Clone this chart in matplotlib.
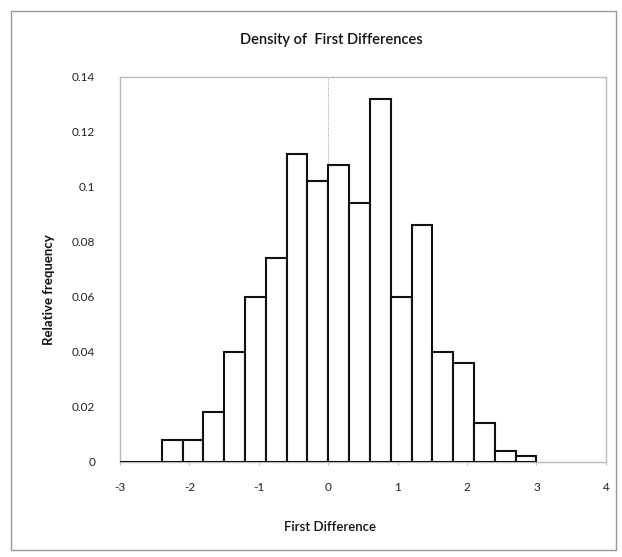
import numpy as np
import matplotlib
matplotlib.use("Agg")
import matplotlib.pyplot as plt
from matplotlib.patches import Rectangle

# Histogram bins (left edges) and relative frequencies
binEdges = [-3.0, -2.7, -2.4, -2.1, -1.8, -1.5, -1.2, -0.9, -0.6, -0.3,
            0.0, 0.3, 0.6, 0.9, 1.2, 1.5, 1.8, 2.1, 2.4, 2.7, 3.0]
relFreq = [0.0, 0.0, 0.008, 0.008, 0.018, 0.040, 0.060, 0.074, 0.112, 0.102,
           0.108, 0.094, 0.132, 0.060, 0.086, 0.040, 0.036, 0.014, 0.004, 0.002]
xTicks = [-3, -2, -1, 0, 1, 2, 3, 4]
yTicks = [0, 0.02, 0.04, 0.06, 0.08, 0.1, 0.12, 0.14]
yTickLabels = ['0', '0.02', '0.04', '0.06', '0.08', '0.1', '0.12', '0.14']

plt.rcParams['font.family'] = ['Lato', 'DejaVu Sans']
plt.rcParams['axes.unicode_minus'] = False

fig = plt.figure(figsize=(6.22, 5.57), dpi=100)
ax = fig.add_axes([0.193, 0.1706, 0.781, 0.6914])

lefts = np.array(binEdges[:-1])
widths = np.diff(binEdges)
ax.bar(lefts, relFreq, width=widths, align='edge', facecolor='white',
       edgecolor='#111111', linewidth=1.5, zorder=3)

# vertical axis crossing at zero, drawn light and dotted like the original
ax.axvline(0, color='#aaaaaa', linewidth=0.8, linestyle=(0, (1, 1)), zorder=1)

ax.set_xlim(-3, 4)
ax.set_ylim(0, 0.14)
ax.set_xticks(xTicks)
ax.set_yticks(yTicks)
ax.set_yticklabels(yTickLabels)
ax.tick_params(axis='x', direction='inout', length=5, color='#bbbbbb',
               labelsize=8.5, pad=12, labelcolor='#222222')
ax.tick_params(axis='y', length=0, labelsize=8.5, pad=18, labelcolor='#222222')
for s in ax.spines.values():
    s.set_color('#bbbbbb')
    s.set_linewidth(1.0)

fig.text(0.532, 0.928, 'Density of  First Differences', ha='center',
         va='center', fontsize=10.5, fontweight='semibold', color='#111111')
fig.text(0.531, 0.054, 'First Difference', ha='center', va='center',
         fontsize=9.5, fontweight='semibold', color='#111111')
fig.text(0.079, 0.48, 'Relative frequency', ha='center', va='center',
         rotation=90, fontsize=9.5, fontweight='bold', color='#111111')

# outer chart border
fig.patches.append(Rectangle((0.017, 0.012), 0.973, 0.968, transform=fig.transFigure,
                             fill=False, edgecolor='#999999', linewidth=1.0))

fig.savefig('out.png', dpi=100)
